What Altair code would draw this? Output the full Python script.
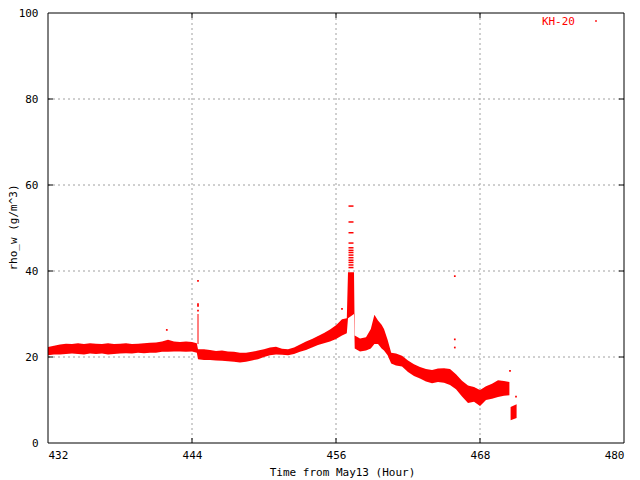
import altair as alt
import pandas as pd

# ---- main band (time, low, high) ----
t = [432.0, 432.5, 433.0, 433.5, 434.0, 434.5, 435.0, 435.5, 436.0, 436.5,
     437.0, 437.5, 438.0, 438.5, 439.0, 439.5, 440.0, 440.5, 441.0, 441.5,
     442.0, 442.5, 443.0, 443.5, 444.0, 444.4, 444.5, 445.0, 445.5, 446.0,
     446.5, 447.0, 447.5, 448.0, 448.5, 449.0, 449.5, 450.0, 450.5, 451.0,
     451.5, 452.0, 452.5, 453.0, 453.5, 454.0, 454.5, 455.0, 455.5, 456.0,
     456.5, 456.9, 457.0, 457.5, 457.56, 458.0, 458.5, 458.9, 459.2, 459.5,
     459.8, 460.0, 460.3, 460.6, 461.0, 461.5, 462.0, 462.5, 463.0, 463.5,
     464.0, 464.5, 465.0, 465.5, 466.0, 466.5, 467.0, 467.5, 468.0, 468.5,
     469.0, 469.5, 470.0, 470.45]
lo = [20.4, 20.6, 20.6, 20.7, 20.8, 20.7, 20.6, 20.8, 20.7, 20.8,
      20.6, 20.7, 20.8, 20.9, 20.8, 21.0, 20.9, 21.0, 21.0, 21.2,
      21.2, 21.3, 21.3, 21.2, 21.3, 21.0, 19.5, 19.3, 19.3, 19.2,
      19.1, 19.0, 18.9, 18.7, 18.9, 19.2, 19.5, 20.0, 20.4, 20.6,
      20.5, 20.4, 20.7, 21.2, 21.6, 22.2, 22.8, 23.2, 23.6, 24.2,
      25.0, 25.5, 29.0, 30.0, 22.0, 21.3, 21.5, 22.0, 23.0, 23.0,
      22.0, 21.5, 20.4, 18.5, 18.0, 17.8, 16.5, 15.6, 15.0, 14.3,
      13.9, 14.2, 14.0, 13.5, 12.5, 10.8, 9.3, 9.6, 8.6, 10.0,
      10.3, 10.7, 11.0, 11.1]
hi = [22.3, 22.6, 22.9, 23.1, 23.0, 23.2, 23.0, 23.2, 23.1, 23.0,
      23.2, 23.0, 23.1, 23.2, 23.0, 23.1, 23.2, 23.3, 23.4, 23.6,
      24.0, 23.6, 23.5, 23.6, 23.5, 23.2, 21.8, 21.8, 21.6, 21.4,
      21.5, 21.3, 21.2, 21.0, 21.0, 21.2, 21.5, 21.8, 22.2, 22.4,
      21.9, 21.8, 22.2, 22.9, 23.6, 24.2, 24.9, 25.6, 26.4, 27.4,
      28.8, 29.0, 39.7, 39.7, 25.0, 24.3, 24.6, 26.5, 29.8, 28.5,
      27.5, 26.5, 24.0, 21.0, 20.8, 20.3, 19.2, 18.3, 17.7, 17.2,
      17.0, 17.3, 17.4, 17.2, 16.0, 14.5, 13.4, 13.0, 12.3, 13.2,
      13.8, 14.6, 14.4, 14.2]

# ---- final short piece ----
t_tail = [470.55, 471.05]
lo_tail = [5.3, 5.8]
hi_tail = [8.4, 9.0]

# ---- spike near 444.5 ----
spike1_t = [444.5]
spike1_lo = [23.0]
spike1_hi = [30.0]

# ---- isolated dots ----
dot_t = [444.5, 444.5, 444.5, 444.5, 441.9, 456.5, 465.9, 465.9, 465.9, 470.5, 471.0]
dot_v = [30.8, 31.9, 32.3, 37.7, 26.3, 31.2, 38.8, 24.1, 22.2, 16.8, 10.8]

# ---- horizontal dashes above the big spike ----
dash_t = [457.25] * 13
dash_v = [40.8, 41.4, 42.0, 42.5, 43.1, 43.7, 44.3, 44.8, 45.4, 46.5, 48.9, 51.4, 55.1]

x_ticks = [432, 444, 456, 468, 480]
y_ticks = [0, 20, 40, 60, 80, 100]
x_grid = [444, 456, 468]
y_grid = [20, 40, 60, 80]

RED = "#ff0000"
FONT = "DejaVu Sans Mono"
W, H = 576, 430

band = pd.DataFrame({"t": t + t_tail, "lo": lo + lo_tail, "hi": hi + hi_tail,
                     "seg": ["a"] * len(t) + ["b"] * len(t_tail)})
sp1 = pd.DataFrame({"t": spike1_t, "lo": spike1_lo, "hi": spike1_hi})
dots = pd.DataFrame({"t": dot_t, "v": dot_v})
dashes = pd.DataFrame({"t": dash_t, "v": dash_v})
xg = pd.DataFrame({"v": x_grid})
yg = pd.DataFrame({"v": y_grid})

xs = alt.Scale(domain=[432, 480], nice=False, zero=False)
ys = alt.Scale(domain=[0, 100], nice=False, zero=False)

x_axis = alt.Axis(values=x_ticks, title="Time from May13 (Hour)", grid=False,
                  ticks=False, domain=False, labelPadding=6, format="d",
                  titleX=294, titleY=29, titleBaseline="middle")
y_axis = alt.Axis(values=y_ticks, title="rho_w (g/m^3)", grid=False,
                  ticks=False, domain=False, labelPadding=10, format="d",
                  titleX=-35, titleY=214, titleBaseline="middle", titleAngle=270)

grid_style = dict(color="#a0a0a0", strokeDash=[2, 3], strokeWidth=1)

gx = alt.Chart(xg).mark_rule(**grid_style).encode(
    x=alt.X("v:Q", scale=xs, axis=x_axis), y=alt.value(0), y2=alt.value(H))
gy = alt.Chart(yg).mark_rule(**grid_style).encode(
    y=alt.Y("v:Q", scale=ys, axis=y_axis), x=alt.value(0), x2=alt.value(W))

area = alt.Chart(band).mark_area(color=RED, opacity=1).encode(
    x=alt.X("t:Q", scale=xs), y=alt.Y("lo:Q", scale=ys), y2="hi:Q", detail="seg:N")

spike = alt.Chart(sp1).mark_rule(color=RED, strokeWidth=1).encode(
    x="t:Q", y="lo:Q", y2="hi:Q")

pts = alt.Chart(dots).mark_square(color=RED, size=3, opacity=1).encode(
    x="t:Q", y="v:Q")

dsh = alt.Chart(dashes).mark_tick(color=RED, orient="horizontal", size=5,
                                   thickness=1.5, opacity=1).encode(x="t:Q", y="v:Q")

tk_l = alt.Chart(yg).mark_rule(color="black").encode(
    y="v:Q", x=alt.value(0), x2=alt.value(5))
tk_r = alt.Chart(yg).mark_rule(color="black").encode(
    y="v:Q", x=alt.value(W - 5), x2=alt.value(W))
tk_b = alt.Chart(xg).mark_rule(color="black").encode(
    x="v:Q", y=alt.value(H - 5), y2=alt.value(H))
tk_t = alt.Chart(xg).mark_rule(color="black").encode(
    x="v:Q", y=alt.value(0), y2=alt.value(5))

frame = alt.Chart(pd.DataFrame({"a": [0]})).mark_rect(
    filled=False, stroke="black", strokeWidth=1, fill=None).encode(
    x=alt.value(0), x2=alt.value(W), y=alt.value(0), y2=alt.value(H))

leg_text = alt.Chart(pd.DataFrame({"label": ["KH-20"]})).mark_text(
    color=RED, font=FONT, fontSize=11, align="right", baseline="middle").encode(
    text="label:N", x=alt.value(527), y=alt.value(9))
leg_dot = alt.Chart(pd.DataFrame({"a": [0]})).mark_square(
    color=RED, size=3, opacity=1).encode(x=alt.value(548), y=alt.value(8))

chart = alt.layer(gx, gy, area, spike, pts, dsh, tk_l, tk_r, tk_b, tk_t,
                  frame, leg_text, leg_dot).properties(
    width=W, height=H,
    padding={"left": 40, "top": 5, "right": 8, "bottom": 37},
    autosize=alt.AutoSizeParams(type="none"),
    background="white",
).configure_view(stroke=None).configure_axis(
    labelFont=FONT, labelFontSize=11, labelColor="black",
    titleFont=FONT, titleFontSize=11, titleColor="black", titleFontWeight="normal",
)

chart.save("out.html", embed_options={"renderer": "svg", "actions": False})
